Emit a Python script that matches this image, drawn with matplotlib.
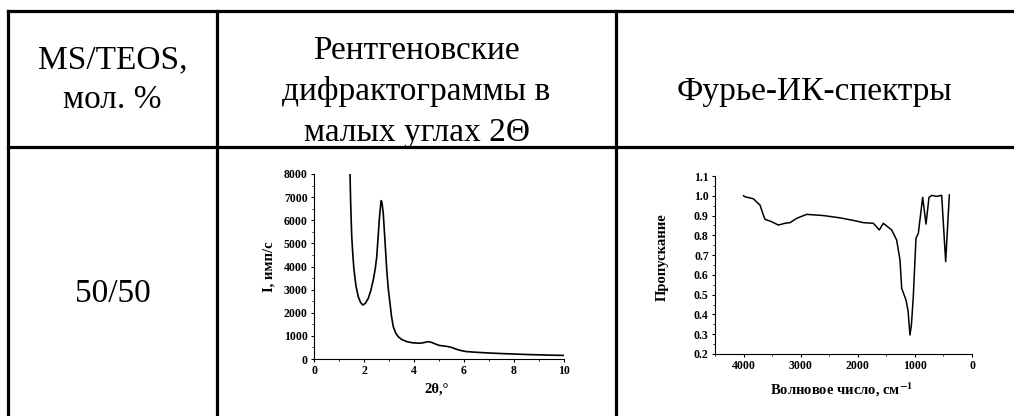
import matplotlib
matplotlib.use("Agg")
import matplotlib.pyplot as plt
from matplotlib.lines import Line2D
from matplotlib.ticker import MultipleLocator

# --- data ---
ratio_label = "50/50"

# small-angle XRD: 2theta (deg) vs I (counts/s)
xrd_2theta = [1.42, 1.44, 1.47, 1.51, 1.56, 1.60, 1.68, 1.77, 1.86, 1.95, 2.05, 2.17,
              2.27, 2.37, 2.45, 2.51, 2.56, 2.61, 2.66, 2.69, 2.72, 2.77, 2.84, 2.91,
              2.97, 3.04, 3.10, 3.17, 3.27, 3.37, 3.50, 3.71, 3.95, 4.24, 4.40, 4.57,
              4.70, 4.85, 5.00, 5.20, 5.35, 5.50, 5.70, 5.90, 6.10, 6.50, 7.00, 7.50,
              8.00, 8.50, 9.00, 9.50, 10.0]
xrd_int = [8600, 8030, 6600, 5290, 4400, 3850, 3150, 2695, 2450, 2335, 2400, 2620,
           2950, 3415, 3900, 4425, 5200, 6010, 6600, 6850, 6750, 6300, 5100, 3850,
           3050, 2410, 1850, 1400, 1120, 965, 850, 750, 700, 680, 710, 750,
           720, 650, 590, 560, 540, 500, 420, 360, 320, 290, 260, 235,
           215, 195, 180, 165, 155]

# FTIR: wavenumber (cm-1) vs transmittance
ir_wn = [4000, 3975, 3830, 3712, 3654, 3625, 3508, 3391, 3274, 3187, 3070, 2895,
         2603, 2300, 2019, 1903, 1728, 1623, 1553, 1406, 1319, 1261, 1231, 1156,
         1120, 1086, 1060, 1028, 981, 940, 864, 805, 753, 706, 618, 531,
         461, 397]
ir_tr = [1.000, 0.995, 0.985, 0.953, 0.903, 0.881, 0.869, 0.852, 0.861, 0.864, 0.886, 0.906,
         0.900, 0.888, 0.872, 0.864, 0.861, 0.827, 0.861, 0.827, 0.776, 0.675, 0.532, 0.473,
         0.420, 0.296, 0.350, 0.490, 0.785, 0.810, 0.992, 0.857, 0.992, 1.002, 0.997, 1.002,
         0.667, 1.004]

header_col1 = ["MS/TEOS,", "мол. %"]
header_col2 = ["Рентгеновские", "дифрактограммы в", "малых углах 2Θ"]
header_col3 = ["Фурье-ИК-спектры"]

W, H = 1014, 416
plt.rcParams['font.family'] = ['Liberation Serif', 'DejaVu Serif']
plt.rcParams['mathtext.fontset'] = 'stix'

fig = plt.figure(figsize=(W / 100, H / 100), dpi=100)


def fx(px):
    return px / W


def fy(py):
    return 1 - py / H


# table grid
lw = 2.3
for x in [8, 217, 616]:
    fig.add_artist(Line2D([fx(x), fx(x)], [fy(11), fy(H + 5)], color='black', lw=lw))
for y in [11, 147]:
    fig.add_artist(Line2D([fx(8), fx(W + 5)], [fy(y), fy(y)], color='black', lw=lw))

# header text
fs = 24
for txt, yb in zip(header_col1, [68, 108]):
    fig.text(fx(112.5), fy(yb), txt, ha='center', va='baseline', fontsize=fs)
for txt, yb in zip(header_col2, [59, 100, 141]):
    fig.text(fx(416.5), fy(yb), txt, ha='center', va='baseline', fontsize=fs)
fig.text(fx(815), fy(100), header_col3[0], ha='center', va='baseline', fontsize=fs)
fig.text(fx(112.5), fy(302), ratio_label, ha='center', va='baseline', fontsize=fs)


def style_axes(ax):
    for s in ['top', 'right']:
        ax.spines[s].set_visible(False)
    for s in ['left', 'bottom']:
        ax.spines[s].set_linewidth(0.8)
    ax.tick_params(which='major', direction='out', length=2.5, width=0.8,
                   labelsize=8.5, pad=2)
    ax.tick_params(which='minor', direction='out', length=1.5, width=0.6)
    for lab in ax.get_xticklabels() + ax.get_yticklabels():
        lab.set_fontweight('bold')


# XRD
ax1 = fig.add_axes([fx(314), fy(359), 250 / W, 185 / H])
ax1.plot(xrd_2theta, xrd_int, color='black', lw=1.2)
ax1.set_xlim(0, 10)
ax1.set_ylim(0, 8000)
ax1.xaxis.set_major_locator(MultipleLocator(2))
ax1.xaxis.set_minor_locator(MultipleLocator(1))
ax1.yaxis.set_major_locator(MultipleLocator(1000))
ax1.yaxis.set_minor_locator(MultipleLocator(500))
style_axes(ax1)
ax1.set_ylabel("I, имп/с", fontsize=10.5, fontweight='bold')
ax1.set_xlabel("2θ,°", fontsize=10.5, fontweight='bold')
ax1.yaxis.set_label_coords(-0.155, 0.5)
ax1.xaxis.set_label_coords(0.49, -0.125)

# FTIR
ax2 = fig.add_axes([fx(715), fy(354), 257 / W, 178 / H])
ax2.plot(ir_wn, ir_tr, color='black', lw=1.1)
ax2.set_xlim(4500, 0)
ax2.set_ylim(0.2, 1.1)
ax2.xaxis.set_major_locator(MultipleLocator(1000))
ax2.xaxis.set_minor_locator(MultipleLocator(500))
ax2.yaxis.set_major_locator(MultipleLocator(0.1))
ax2.yaxis.set_minor_locator(MultipleLocator(0.05))
style_axes(ax2)
ax2.set_ylabel("Пропускание", fontsize=10.5, fontweight='bold')
ax2.set_xlabel(r"Волновое число, см$^{\mathbf{-1}}$", fontsize=10.5, fontweight='bold')
ax2.yaxis.set_label_coords(-0.18, 0.545)
ax2.xaxis.set_label_coords(0.494, -0.15)

fig.savefig("out.png", dpi=100)
